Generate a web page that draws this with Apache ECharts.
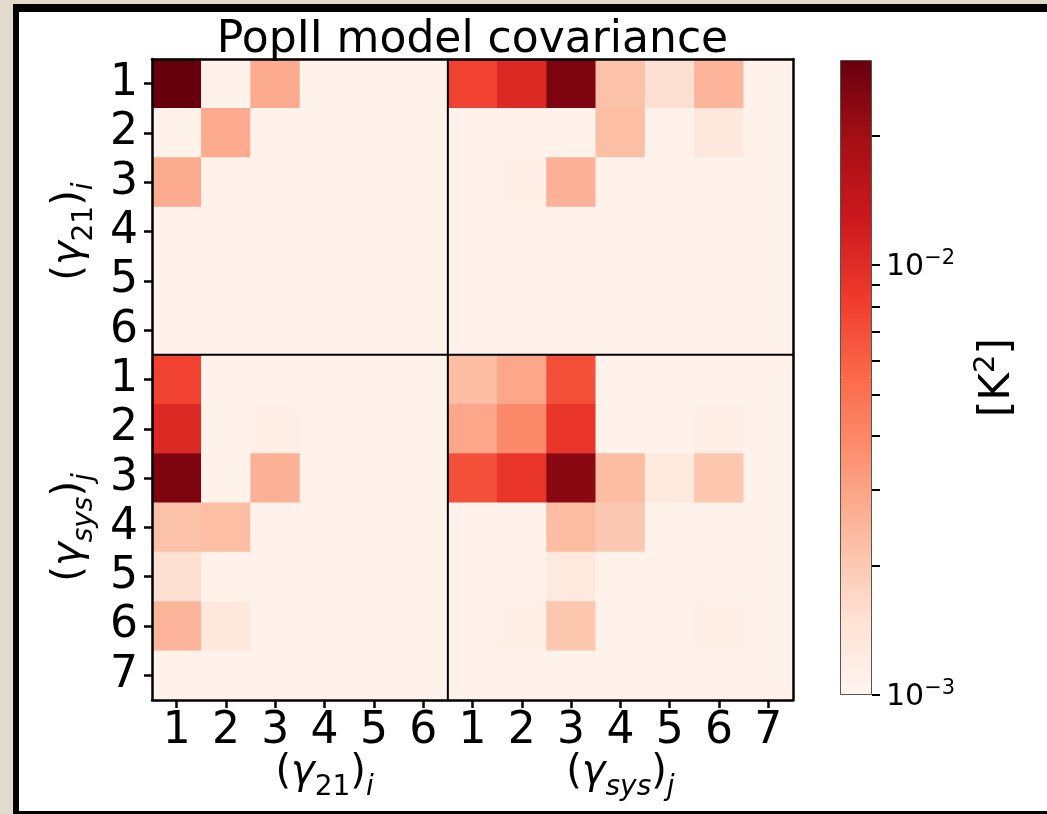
<!DOCTYPE html>
<html>
<head>
<meta charset="utf-8">
<title>PopII model covariance</title>
<script src="https://cdn.jsdelivr.net/npm/echarts@6.0.0/dist/echarts.min.js"></script>
<style>
  html, body { margin: 0; padding: 0; overflow: hidden; background: #e2dbcb; }
  #frame {
    position: absolute; left: 13px; top: 4px; width: 1100px; height: 810px;
    box-sizing: border-box; background: #fff;
    border-left: 6px solid #000; border-top: 8px solid #000; border-bottom: 3px solid #000;
  }
  #chart { position: absolute; left: 0; top: 0; width: 1047px; height: 814px; }
</style>
</head>
<body>
<div id="frame"></div>
<div id="chart"></div>
<script>
(function () {
  'use strict';

  // tick labels of the two parameter blocks
  const labels21 = ['1', '2', '3', '4', '5', '6'];
  const labelsSys = ['1', '2', '3', '4', '5', '6', '7'];
  const blockSubs = ['21', 'sys'];
  const blockIdx = ['i', 'j'];

  // covariance, units of 1e-3 K^2; rows and columns: gamma21 1..6, then gamma_sys 1..7
  const unit = 1e-3;
  const cov = [
    [30.0, 1.07, 2.77, 1.07, 1.07, 1.07, 7.85, 10.45, 25.7, 2.19, 1.53, 2.50, 1.07],
    [1.07, 2.77, 1.07, 1.07, 1.07, 1.07, 1.07, 1.07, 1.07, 2.26, 1.07, 1.30, 1.07],
    [2.77, 1.07, 1.07, 1.07, 1.07, 1.07, 1.07, 1.13, 2.59, 1.07, 1.07, 1.07, 1.07],
    [1.07, 1.07, 1.07, 1.07, 1.07, 1.07, 1.07, 1.07, 1.07, 1.07, 1.07, 1.07, 1.07],
    [1.07, 1.07, 1.07, 1.07, 1.07, 1.07, 1.07, 1.07, 1.07, 1.07, 1.07, 1.07, 1.07],
    [1.07, 1.07, 1.07, 1.07, 1.07, 1.07, 1.07, 1.07, 1.07, 1.07, 1.07, 1.07, 1.07],
    [7.85, 1.07, 1.07, 1.07, 1.07, 1.07, 2.30, 2.87, 6.95, 1.07, 1.07, 1.07, 1.07],
    [10.45, 1.07, 1.13, 1.07, 1.07, 1.07, 2.87, 3.90, 9.12, 1.07, 1.07, 1.13, 1.07],
    [25.7, 1.07, 2.59, 1.07, 1.07, 1.07, 6.95, 9.12, 23.6, 2.30, 1.27, 2.05, 1.07],
    [2.19, 2.26, 1.07, 1.07, 1.07, 1.07, 1.07, 1.07, 2.30, 2.01, 1.07, 1.07, 1.07],
    [1.53, 1.07, 1.07, 1.07, 1.07, 1.07, 1.07, 1.07, 1.27, 1.07, 1.07, 1.07, 1.07],
    [2.50, 1.30, 1.07, 1.07, 1.07, 1.07, 1.07, 1.13, 2.05, 1.07, 1.07, 1.13, 1.07],
    [1.07, 1.07, 1.07, 1.07, 1.07, 1.07, 1.07, 1.07, 1.07, 1.07, 1.07, 1.07, 1.07]
  ];

  // colour bar (log norm) and its ticks, K^2
  const vmin = 1e-3;
  const vmax = 3e-2;
  const cbarTicks = [1e-3, 2e-3, 3e-3, 4e-3, 5e-3, 6e-3, 7e-3, 8e-3, 9e-3, 1e-2, 2e-2];
  const cbarLabels = [1e-3, 1e-2];

  // matplotlib "Reds"
  const reds = ['#fff5f0', '#fee0d2', '#fcbba1', '#fc9272', '#fb6a4a', '#ef3b2c', '#cb181d', '#a50f15', '#67000d'];
  const font = 'DejaVu Sans';

  const cats = labels21.concat(labelsSys);
  const n = cats.length;
  const n21 = labels21.length;
  const decades = Math.log10(vmax / vmin);
  const norm = (v) => Math.min(decades, Math.max(0, Math.log10(v / vmin)));

  const data = [];
  cov.forEach((row, y) => row.forEach((v, x) => data.push([x, y, norm(v * unit)])));

  // block titles sit on the middle tick of each block
  const blockStarts = [0, n21];
  const blockLens = [labels21.length, labelsSys.length];
  const titleAt = {};
  blockStarts.forEach((s, b) => {
    const subStyle = /^\d+$/.test(blockSubs[b]) ? 'd' : 'si';
    titleAt[s + Math.floor(blockLens[b] / 2)] =
      `{p|(}{g|γ}{${subStyle}|${blockSubs[b]}}{p|)}{si|${blockIdx[b]}}`;
  });

  const mathRich = {
    p: { fontFamily: font, fontSize: 40, color: '#000', padding: [0, 0, 9, 0], verticalAlign: 'bottom' },
    g: { fontFamily: font, fontSize: 40, fontStyle: 'italic', color: '#000', padding: [0, 0, 9, 0], verticalAlign: 'bottom' },
    d: { fontFamily: font, fontSize: 28, color: '#000', verticalAlign: 'bottom' },
    si: { fontFamily: font, fontSize: 28, fontStyle: 'italic', color: '#000', verticalAlign: 'bottom' }
  };

  const plot = { left: 152, top: 59, width: 641, height: 641 };
  const frameLine = { show: true, onZero: false, lineStyle: { color: '#000', width: 2.5 } };
  const tickStyle = { show: true, alignWithLabel: true, length: 8, lineStyle: { color: '#000', width: 2.5 } };
  const tickFont = { fontFamily: font, fontSize: 44, color: '#000' };

  const chart = echarts.init(document.getElementById('chart'), null, { renderer: 'canvas' });

  chart.setOption({
    animation: false,
    backgroundColor: 'transparent',
    title: {
      text: 'PopII model covariance',
      left: plot.left + plot.width / 2,
      top: 19,
      padding: 0,
      textAlign: 'center',
      textStyle: { fontFamily: font, fontSize: 44, fontWeight: 'normal', color: '#000' }
    },
    grid: [
      Object.assign({}, plot),
      Object.assign({}, plot),
      { left: 840, top: 60, width: 32, height: 635 }
    ],
    xAxis: [
      {
        type: 'category', gridIndex: 0, data: cats, position: 'bottom', z: 10,
        axisLine: frameLine, axisTick: tickStyle, splitLine: { show: false },
        axisLabel: Object.assign({ interval: 0, margin: 10 }, tickFont)
      },
      {
        type: 'category', gridIndex: 0, data: cats, position: 'bottom',
        axisLine: { show: false }, axisTick: { show: false }, splitLine: { show: false },
        axisLabel: {
          interval: (i) => titleAt[i] !== undefined,
          formatter: (v, i) => titleAt[i] || '',
          margin: 53,
          rich: mathRich
        }
      },
      {
        type: 'value', gridIndex: 1, min: 0, max: n, position: 'top', z: 10,
        axisLine: frameLine, axisTick: { show: false }, axisLabel: { show: false }, splitLine: { show: false }
      },
      {
        type: 'category', gridIndex: 2, data: ['cbar'], show: false
      }
    ],
    yAxis: [
      {
        type: 'category', gridIndex: 0, data: cats, inverse: true, position: 'left', z: 10,
        axisLine: frameLine, axisTick: tickStyle, splitLine: { show: false },
        axisLabel: Object.assign({ interval: 0, margin: 14 }, tickFont)
      },
      {
        type: 'category', gridIndex: 0, data: cats, inverse: true, position: 'left',
        axisLine: { show: false }, axisTick: { show: false }, splitLine: { show: false },
        axisLabel: {
          interval: (i) => titleAt[i] !== undefined,
          formatter: (v, i) => titleAt[i] || '',
          rotate: 90,
          margin: 53,
          rich: mathRich
        }
      },
      {
        type: 'value', gridIndex: 1, min: 0, max: n, inverse: true, position: 'right', z: 10,
        axisLine: frameLine, axisTick: { show: false }, axisLabel: { show: false }, splitLine: { show: false }
      },
      {
        type: 'value', gridIndex: 2, min: 0, max: decades, position: 'right',
        axisLine: { show: false }, splitLine: { show: false },
        axisTick: {
          show: true, length: 8, lineStyle: { color: '#000', width: 2 },
          customValues: cbarTicks.map((v) => Math.log10(v / vmin))
        },
        axisLabel: {
          margin: 14,
          customValues: cbarLabels.map((v) => Math.log10(v / vmin)),
          formatter: (val) => {
            const e = Math.round(Math.log10(vmin) + val);
            return `{b|10}{s|${e < 0 ? '\u2212' : ''}${Math.abs(e)}}`;
          },
          rich: {
            b: { fontFamily: font, fontSize: 30, color: '#000', verticalAlign: 'bottom' },
            s: { fontFamily: font, fontSize: 21, color: '#000', verticalAlign: 'bottom', padding: [0, 0, 13, 0] }
          }
        },
        name: '{n|[K}{sup|2}{n|]}',
        nameLocation: 'middle',
        nameRotate: 90,
        nameGap: 100,
        nameTextStyle: {
          rich: {
            n: { fontFamily: font, fontSize: 42, color: '#000', verticalAlign: 'bottom' },
            sup: { fontFamily: font, fontSize: 29, color: '#000', verticalAlign: 'bottom', padding: [0, 0, 18, 0] }
          }
        }
      }
    ],
    visualMap: {
      show: false,
      type: 'continuous',
      seriesIndex: 0,
      dimension: 2,
      min: 0,
      max: decades,
      inRange: { color: reds }
    },
    series: [
      {
        name: 'covariance',
        type: 'heatmap',
        xAxisIndex: 0,
        yAxisIndex: 0,
        data,
        emphasis: { disabled: true },
        silent: true
      },
      {
        type: 'line', xAxisIndex: 2, yAxisIndex: 2, z: 4, silent: true,
        symbol: 'none', lineStyle: { color: '#000', width: 2 },
        data: [[n21, 0], [n21, n]]
      },
      {
        type: 'line', xAxisIndex: 2, yAxisIndex: 2, z: 4, silent: true,
        symbol: 'none', lineStyle: { color: '#000', width: 2 },
        data: [[0, n21], [n, n21]]
      },
      {
        type: 'bar', xAxisIndex: 3, yAxisIndex: 3, silent: true,
        barWidth: '100%',
        data: [decades],
        itemStyle: {
          borderColor: '#555', borderWidth: 1,
          color: {
            type: 'linear', x: 0, y: 1, x2: 0, y2: 0,
            colorStops: reds.map((c, i) => ({ offset: i / (reds.length - 1), color: c }))
          }
        }
      }
    ]
  });

  window.addEventListener('resize', () => chart.resize());
})();
</script>
</body>
</html>
